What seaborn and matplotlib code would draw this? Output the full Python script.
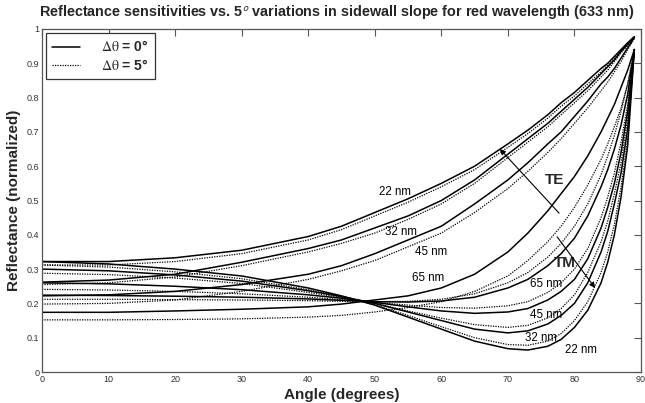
import numpy as np
import pandas as pd
import matplotlib
matplotlib.use('Agg')
import matplotlib.pyplot as plt
from matplotlib.lines import Line2D
import seaborn as sns

# angles (degrees) at which the curves were read
angles = [0, 10, 20, 30, 40, 45, 50, 55, 60, 65, 70, 73, 76, 78, 80, 82, 84, 85, 86, 87, 88, 89]

# TE curves, dtheta = 0 (solid) / 5 deg (dotted)
te22_0 = [0.322, 0.322, 0.333, 0.355, 0.395, 0.425, 0.465, 0.505, 0.55, 0.60, 0.665, 0.705, 0.75, 0.785, 0.815, 0.85, 0.885, 0.90, 0.92, 0.94, 0.96, 0.978]
te22_5 = [0.312, 0.312, 0.322, 0.345, 0.385, 0.415, 0.455, 0.495, 0.54, 0.59, 0.655, 0.695, 0.74, 0.775, 0.805, 0.84, 0.875, 0.895, 0.915, 0.935, 0.955, 0.976]
te32_0 = [0.262, 0.268, 0.285, 0.32, 0.36, 0.385, 0.42, 0.455, 0.50, 0.56, 0.635, 0.68, 0.725, 0.76, 0.795, 0.83, 0.87, 0.89, 0.91, 0.935, 0.955, 0.976]
te32_5 = [0.255, 0.26, 0.277, 0.31, 0.35, 0.375, 0.405, 0.445, 0.49, 0.55, 0.625, 0.67, 0.715, 0.75, 0.785, 0.82, 0.86, 0.88, 0.905, 0.93, 0.952, 0.975]
te45_0 = [0.222, 0.225, 0.235, 0.255, 0.285, 0.31, 0.345, 0.385, 0.425, 0.49, 0.56, 0.61, 0.665, 0.70, 0.745, 0.79, 0.84, 0.86, 0.885, 0.915, 0.945, 0.975]
te45_5 = [0.198, 0.20, 0.21, 0.235, 0.27, 0.295, 0.325, 0.365, 0.405, 0.465, 0.535, 0.585, 0.64, 0.68, 0.725, 0.77, 0.82, 0.845, 0.875, 0.905, 0.94, 0.972]
te65_0 = [0.174, 0.174, 0.178, 0.183, 0.19, 0.198, 0.21, 0.222, 0.245, 0.285, 0.35, 0.405, 0.47, 0.52, 0.57, 0.63, 0.70, 0.74, 0.78, 0.83, 0.88, 0.94]
te65_5 = [0.152, 0.152, 0.153, 0.155, 0.16, 0.165, 0.175, 0.188, 0.205, 0.235, 0.28, 0.325, 0.38, 0.425, 0.48, 0.545, 0.62, 0.665, 0.715, 0.77, 0.84, 0.93]

# TM curves
tm22_0 = [0.322, 0.315, 0.30, 0.28, 0.245, 0.222, 0.195, 0.16, 0.125, 0.09, 0.068, 0.064, 0.075, 0.095, 0.13, 0.18, 0.26, 0.32, 0.40, 0.51, 0.66, 0.94]
tm22_5 = [0.312, 0.306, 0.292, 0.272, 0.24, 0.22, 0.196, 0.165, 0.132, 0.10, 0.08, 0.078, 0.09, 0.112, 0.15, 0.205, 0.29, 0.35, 0.43, 0.54, 0.68, 0.94]
tm32_0 = [0.30, 0.295, 0.283, 0.265, 0.237, 0.22, 0.20, 0.175, 0.15, 0.125, 0.114, 0.12, 0.14, 0.165, 0.20, 0.26, 0.35, 0.41, 0.49, 0.58, 0.71, 0.94]
tm32_5 = [0.288, 0.284, 0.274, 0.258, 0.232, 0.217, 0.20, 0.178, 0.157, 0.138, 0.13, 0.136, 0.158, 0.185, 0.225, 0.29, 0.38, 0.44, 0.52, 0.61, 0.74, 0.94]
tm45_0 = [0.26, 0.257, 0.25, 0.24, 0.225, 0.215, 0.203, 0.19, 0.178, 0.171, 0.175, 0.185, 0.21, 0.235, 0.27, 0.33, 0.42, 0.48, 0.55, 0.64, 0.76, 0.94]
tm45_5 = [0.241, 0.239, 0.235, 0.228, 0.218, 0.211, 0.203, 0.195, 0.188, 0.186, 0.193, 0.205, 0.232, 0.26, 0.30, 0.36, 0.45, 0.51, 0.58, 0.67, 0.78, 0.94]
tm65_0 = [0.224, 0.223, 0.221, 0.218, 0.213, 0.209, 0.205, 0.204, 0.207, 0.218, 0.245, 0.27, 0.31, 0.345, 0.39, 0.455, 0.54, 0.59, 0.65, 0.72, 0.81, 0.94]
tm65_5 = [0.212, 0.212, 0.211, 0.21, 0.208, 0.206, 0.205, 0.206, 0.212, 0.228, 0.26, 0.29, 0.335, 0.375, 0.425, 0.49, 0.575, 0.63, 0.69, 0.76, 0.84, 0.94]

curves = {
    ('TE', '22', 0): te22_0, ('TE', '22', 5): te22_5,
    ('TE', '32', 0): te32_0, ('TE', '32', 5): te32_5,
    ('TE', '45', 0): te45_0, ('TE', '45', 5): te45_5,
    ('TE', '65', 0): te65_0, ('TE', '65', 5): te65_5,
    ('TM', '22', 0): tm22_0, ('TM', '22', 5): tm22_5,
    ('TM', '32', 0): tm32_0, ('TM', '32', 5): tm32_5,
    ('TM', '45', 0): tm45_0, ('TM', '45', 5): tm45_5,
    ('TM', '65', 0): tm65_0, ('TM', '65', 5): tm65_5,
}

# text labels: (text, angle, value)
te_labels = [('22 nm', 53, 0.525), ('32 nm', 54, 0.408), ('45 nm', 58.5, 0.35), ('65 nm', 58, 0.274)]
tm_labels = [('65 nm', 75.8, 0.257), ('45 nm', 75.8, 0.166), ('32 nm', 75, 0.10), ('22 nm', 81, 0.064)]

sns.set_style('white')
plt.rcParams['font.family'] = ['Liberation Sans', 'DejaVu Sans']
plt.rcParams['mathtext.fontset'] = 'stix'

fig = plt.figure(figsize=(6.45, 4.03), dpi=100)
ax = fig.add_axes([42 / 645, 1 - 372 / 403, (641 - 42) / 645, (372 - 29) / 403])

rows = []
for (pol, nm, dt), vals in curves.items():
    for a, v in zip(angles, vals):
        rows.append((pol, nm, dt, a, v))
df = pd.DataFrame(rows, columns=['pol', 'nm', 'dtheta', 'angle', 'value'])

for (pol, nm, dt), sub in df.groupby(['pol', 'nm', 'dtheta']):
    if dt == 0:
        sns.lineplot(data=sub, x='angle', y='value', ax=ax, color='black', lw=1.1, legend=False)
    else:
        sns.lineplot(data=sub, x='angle', y='value', ax=ax, color='black', lw=0.9,
                     linestyle=(0, (1, 1)), legend=False)

for txt, a, v in te_labels + tm_labels:
    ax.text(a, v, txt, fontsize=8.3, ha='center', va='center', color='black')

ax.text(77, 0.56, 'TE', fontsize=11, fontweight='bold', ha='center', va='center')
ax.text(78.5, 0.318, 'TM', fontsize=11, fontweight='bold', ha='center', va='center')

arrow = dict(arrowstyle='-|>', color='black', lw=0.8, mutation_scale=8, shrinkA=0, shrinkB=0)
ax.annotate('', xy=(68.8, 0.65), xytext=(77.7, 0.463), arrowprops=arrow)
ax.annotate('', xy=(83.1, 0.245), xytext=(77.4, 0.394), arrowprops=arrow)

ax.set_xlim(0, 90)
ax.set_ylim(0, 1)
ax.set_xticks(np.arange(0, 91, 10))
ax.set_yticks(np.arange(0, 1.01, 0.1))
ax.set_yticklabels(['0', '0.1', '0.2', '0.3', '0.4', '0.5', '0.6', '0.7', '0.8', '0.9', '1'])
ax.tick_params(direction='in', length=5, width=0.8, color='#555555', labelsize=6.5,
               labelcolor='#333333', top=True, right=True, pad=2)
for s in ax.spines.values():
    s.set_color('#555555')
    s.set_linewidth(0.9)

ax.set_xlabel('Angle (degrees)', fontsize=11, fontweight='bold', labelpad=3)
ax.set_ylabel('Reflectance (normalized)', fontsize=11, fontweight='bold', labelpad=4)
fig.text(337 / 645, 1 - 12 / 403,
         'Reflectance sensitivities vs. 5$^\\mathsf{o}$ variations in sidewall slope for red wavelength (633 nm)',
         fontsize=10.4, fontweight='bold', ha='center', va='center')

handles = [Line2D([], [], color='black', lw=1.1),
           Line2D([], [], color='black', lw=0.9, linestyle=(0, (1, 1)))]
leg = ax.legend(handles, [r'$\mathrm{\Delta\theta}$ = 0°', r'$\mathrm{\Delta\theta}$ = 5°'],
                loc='upper left', fancybox=False, framealpha=1, edgecolor='#333333',
                prop={'weight': 'bold', 'size': 10}, handlelength=2.0, handletextpad=1.5,
                borderaxespad=0.3, borderpad=0.45, labelspacing=0.25)
leg.get_frame().set_linewidth(0.9)

fig.savefig('out.png', dpi=100)
